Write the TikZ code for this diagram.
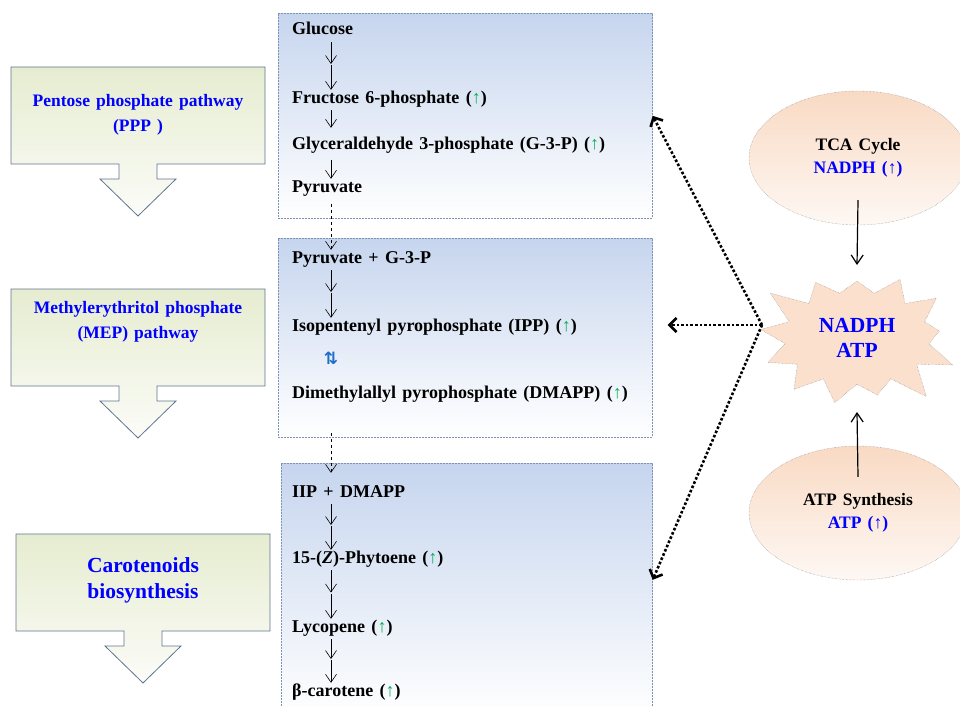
\documentclass[tikz,border=0pt]{standalone}
\usepackage{fontspec}
\setmainfont{Liberation Serif}[WordSpace=1.4]
\newfontfamily\symfont{DejaVu Sans}
\usetikzlibrary{arrows.meta,shapes.geometric,shapes.symbols,calc}

\definecolor{boxblue}{RGB}{198,213,238}
\definecolor{boxline}{RGB}{125,146,180}
\definecolor{callfill}{RGB}{230,236,208}
\definecolor{callline}{RGB}{95,116,144}
\definecolor{peach}{RGB}{249,218,196}
\definecolor{upgreen}{RGB}{0,176,80}
\definecolor{pathblue}{RGB}{0,0,255}
\definecolor{eqblue}{RGB}{30,110,200}

\newcommand{\upg}{(\textcolor{upgreen}{↑})}

\begin{document}
\begin{tikzpicture}[x=1pt,y=-1pt,
    met/.style={anchor=base west,inner sep=0pt,text height=12pt,text depth=4pt,
      font=\bfseries\fontsize{18}{22}\selectfont},
    box/.style={draw=boxline,dash pattern=on 2pt off 1pt,line width=0.7pt,
      top color=boxblue,bottom color=white,anchor=north west,inner sep=0pt},
    callout/.style={draw=callline,line width=0.8pt,top color=callfill,bottom color=callfill!15},
    calltxt/.style={text=pathblue,align=center,font=\bfseries\fontsize{17.5}{25}\selectfont},
    ell/.style={ellipse,draw=gray,densely dotted,top color=peach,bottom color=peach!20,
      minimum width=218pt,minimum height=134pt,align=center,
      font=\bfseries\fontsize{17.5}{23}\selectfont},
    burst/.style={starburst,starburst points=13,starburst point height=34pt,random starburst=3,
      draw=gray,densely dotted,fill=peach!85,inner sep=13pt,
      align=center,text=pathblue,font=\bfseries\fontsize{21.5}{25}\selectfont},
    flow/.style={-{Straight Barb[length=8pt,width=11pt]},line width=0.6pt,shorten >=1pt},
    push/.style={-{Straight Barb[length=9pt,width=12pt]},line width=1.2pt},
    supply/.style={-{Straight Barb[length=7pt,width=14pt]},line width=2.6pt,dotted}]
  \useasboundingbox (0,0) rectangle (960,706);
  \clip (0,0) rectangle (960,706);

  % pathway callouts on the left
  \foreach \L/\T in {11/67,11/289,16/534}
    \draw[callout] (\L,\T) -- (\L+254,\T) -- (\L+254,\T+97) -- (\L+146,\T+97)
      -- (\L+146,\T+112) -- (\L+165,\T+112) -- (\L+127,\T+149) -- (\L+89,\T+112)
      -- (\L+108,\T+112) -- (\L+108,\T+97) -- (\L,\T+97) -- cycle;
  \node[calltxt] (ppp) at (138,115) {Pentose phosphate pathway\\(PPP )};
  \node[calltxt] (mep) at (138,322) {Methylerythritol phosphate\\(MEP) pathway};
  \node[calltxt,font=\bfseries\fontsize{21.5}{26}\selectfont] (car) at (143,580) {Carotenoids\\biosynthesis};

  % pathway boxes
  \node[box,minimum width=374pt,minimum height=205pt] (b1) at (278,13) {};
  \node[box,minimum width=374pt,minimum height=199pt] (b2) at (278,238) {};
  \node[box,minimum width=371pt,minimum height=253pt] (b3) at (281,463) {};

  \node[met] (glc) at (292,35) {Glucose};
  \node[met] (f6p) at (292,103) {Fructose 6-phosphate \upg};
  \node[met] (g3p) at (292,149) {Glyceraldehyde 3-phosphate (G-3-P) \upg};
  \node[met] (pyr) at (292,192) {Pyruvate};
  \node[met] (pg) at (292,263) {Pyruvate + G-3-P};
  \node[met] (ipp) at (292,331) {Isopentenyl pyrophosphate (IPP) \upg};
  \node[met] (dma) at (292,398) {Dimethylallyl pyrophosphate (DMAPP) \upg};
  \node[met] (iid) at (292,497) {IIP + DMAPP};
  \node[met] (phy) at (292,563) {15-(\textit{Z})-Phytoene \upg};
  \node[met] (lyc) at (292,632) {Lycopene \upg};
  \node[met] (bcar) at (292,696) {β-carotene \upg};
  \node[text=eqblue,font=\symfont\bfseries\fontsize{17}{17}\selectfont] (eq) at (331,358) {⇅};

  \coordinate (ax) at (331,0);
  \foreach \a/\b in {glc/f6p,pg/ipp,iid/phy,phy/lyc,lyc/bcar} {
    \coordinate (\a-m) at ($(\a.south -| ax)!.5!(\b.north -| ax)$);
    \draw[flow,shorten <=3pt] (\a.south -| ax) -- (\a-m);
    \draw[flow] (\a-m) -- (\b.north -| ax);
  }
  \draw[flow,shorten <=3pt,shorten >=9pt] (f6p.south -| ax) -- (g3p.north -| ax);
  \draw[flow,shorten <=7pt] (g3p.south -| ax) -- (pyr.north -| ax);
  \draw[flow,dashed,shorten <=8pt] (pyr.south -| ax) -- (pg.north -| ax);
  \draw[flow,dashed,shorten <=31pt,shorten >=12pt] (dma.south -| ax) -- (iid.north -| ax);

  % energy supply
  \node[ell] (tca) at (858,158) {TCA Cycle\\\textcolor{pathblue}{NADPH (↑)}};
  \node[ell] (atps) at (858,513) {ATP Synthesis\\\textcolor{pathblue}{ATP (↑)}};
  \node[burst] (nad) at (857,338) {NADPH\\ATP};
  \draw[push] ([yshift=25pt]tca.south) -- ([yshift=73pt]nad.center);
  \draw[push] ([yshift=-31pt]atps.north) -- ([yshift=-74pt]nad.center);

  \coordinate (hub) at (762,325);
  \draw[supply] (hub) -- (b1.east);
  \draw[supply] (hub) -- ($(hub -| b2.east)+(15,0)$);
  \draw[supply] (hub) -- ([yshift=10pt]b3.east);
\end{tikzpicture}
\end{document}
